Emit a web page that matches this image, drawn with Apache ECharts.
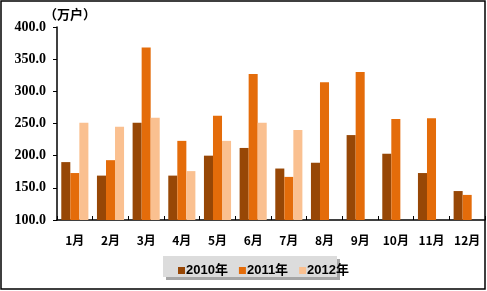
<!DOCTYPE html>
<html><head><meta charset="utf-8">
<script src="https://cdn.jsdelivr.net/npm/echarts@6/dist/echarts.min.js"></script>
<style>html,body{margin:0;padding:0;background:#fff}#c{width:487px;height:291px}</style>
</head><body><div id="c"></div>
<script>
var categories = ['1月','2月','3月','4月','5月','6月','7月','8月','9月','10月','11月','12月'];
var s2010 = [190,169,251,169,200,212,180,189,232,203,173,145];
var s2011 = [173,193,368,223,262,327,167,314,330,257,258,139];
var s2012 = [251,245,259,176,223,251,240,null,null,null,null,null];
var seriesNames = ['2010年','2011年','2012年'];
var yTicks = [100,150,200,250,300,350,400];
var unitLabel = '（万户）';

var colors = ['#974706','#E46C0A','#FAC090'];
var chart = echarts.init(document.getElementById('c'));
var data = [s2010, s2011, s2012];
chart.setOption({
  animation:false,
  graphic:[
    {type:'rect',shape:{x:1,y:1,width:484,height:288},style:{fill:'none',stroke:'#000',lineWidth:1.5}},
    {type:'rect',shape:{x:166,y:259,width:174,height:21},style:{fill:'#a6a6a6'}},
    {type:'rect',shape:{x:163,y:256,width:174,height:21},style:{fill:'#dcdcdc'}},
    {type:'text',left:44,top:8,style:{text:unitLabel,font:'bold 13px "Noto Sans CJK SC"',fill:'#000'}}
  ],
  grid:{left:57,right:2,top:27,bottom:71},
  legend:{top:259,left:173,itemWidth:7,itemHeight:7,itemGap:11,
    data:seriesNames.map(function(n){return {name:n,icon:'rect'};}),
    textStyle:{fontWeight:'bold',fontSize:13,fontFamily:'"Liberation Sans", "Noto Sans CJK SC"',color:'#000',padding:[-1,0,0,-4]}},
  xAxis:{type:'category',data:categories,
    axisLine:{lineStyle:{color:'#000',width:1.5}},
    axisTick:{show:true,length:4,inside:true,lineStyle:{color:'#000'}},
    axisLabel:{color:'#000',fontWeight:'bold',fontSize:12,margin:14,fontFamily:'"Noto Sans CJK SC"'}},
  yAxis:{type:'value',min:100,max:400,interval:50,
    axisLine:{show:true,lineStyle:{color:'#000',width:1.5}},
    axisTick:{show:true,length:4,lineStyle:{color:'#000'}},
    splitLine:{show:false},
    axisLabel:{color:'#000',fontWeight:'bold',fontSize:14,margin:11,fontFamily:'"Liberation Serif"',
      formatter:function(v){return v.toFixed(1);}}},
  series:seriesNames.map(function(n,i){
    return {name:n,type:'bar',data:data[i],barGap:'0%',barCategoryGap:'24%',itemStyle:{color:colors[i]}};
  })
});
</script></body></html>
